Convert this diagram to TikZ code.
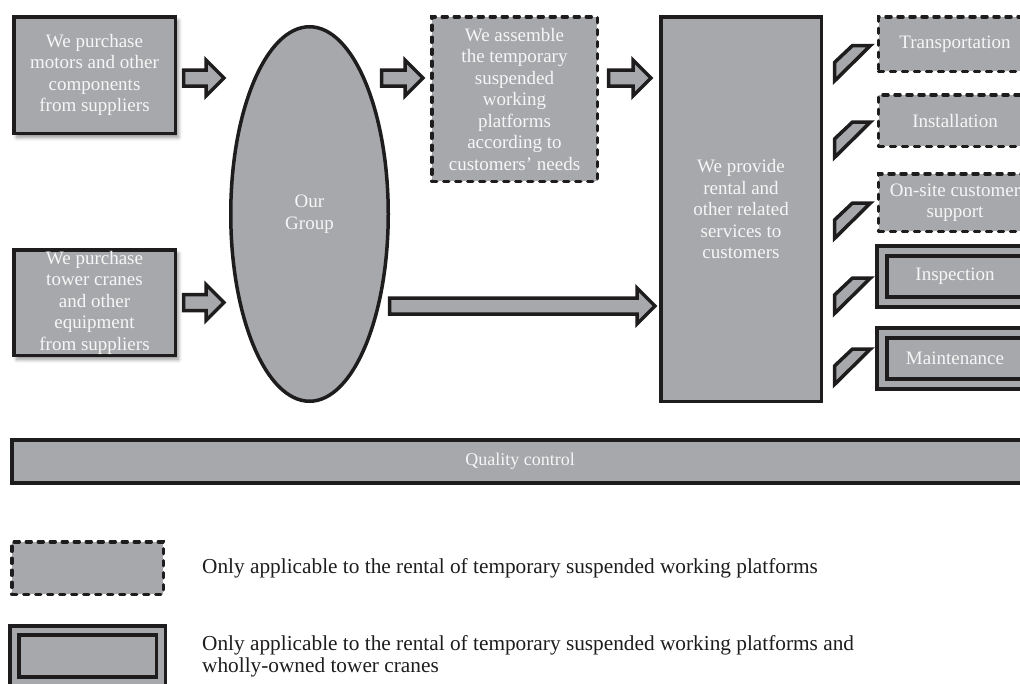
\documentclass[tikz,border=0pt]{standalone}
\usepackage{fontspec}
\setmainfont{Liberation Serif}
\usetikzlibrary{calc,shapes.geometric,shadows.blur}
\definecolor{boxgray}{HTML}{A7A8AB}
\definecolor{ink}{HTML}{1E1C1D}
\definecolor{paper}{HTML}{F6F6F6}

\begin{document}
\begin{tikzpicture}[x=1pt,y=-1pt,
  base/.style={draw=ink, fill=boxgray, line width=3.5pt, text=paper,
    font=\fontsize{19}{21.5}\selectfont, align=center, inner sep=0pt},
  solidbox/.style={base, rectangle},
  dashbox/.style={base, rectangle, dash pattern=on 5pt off 7pt, line cap=round},
  dblbox/.style={base, rectangle, double=boxgray, double distance=6.5pt},
  shadowed/.style={blur shadow={shadow xshift=3pt, shadow yshift=-4pt,
    shadow blur radius=4pt, shadow opacity=45}},
  blockarrow/.style={draw=ink, fill=boxgray, line width=3.5pt, line join=miter,
    to path={let \p1=(\tikztostart), \p2=(\tikztotarget) in
      (\x1,\y1+8pt) -- (\x2-18pt,\y1+8pt) -- (\x2-18pt,\y1+18pt) -- (\x2,\y1)
      -- (\x2-18pt,\y1-18pt) -- (\x2-18pt,\y1-8pt) -- (\x1,\y1-8pt) -- cycle}},
  slant/.style={draw=ink, fill=boxgray, line width=3.5pt, line join=miter,
    to path={let \p1=(\tikztostart), \p2=(\tikztotarget) in
      (\x1,\y1) -- (\x1,\y1+18.5pt) -- (\x2-18pt,\y2) -- (\x2,\y2) -- cycle}},
  legendtext/.style={text=ink, font=\fontsize{21.3}{22}\selectfont, inner sep=0pt}]

\useasboundingbox (0,0) rectangle (1020,683);

% sources
\node[solidbox, shadowed, minimum width=161.5pt, minimum height=116.5pt] (s1) at (94.5,75)
  {We purchase\\motors and other\\components\\from suppliers};
\node[solidbox, shadowed, minimum width=161.5pt, minimum height=105.5pt] (s2) at (94.5,302.5)
  {We purchase\\tower cranes\\and other\\equipment\\from suppliers};

% the group
\node[base, ellipse, minimum width=157.5pt, minimum height=374.5pt] (grp) at (309.5,214)
  {Our\\Group};

% assembly and services
\node[dashbox, minimum width=165.5pt, minimum height=164.5pt] (asm) at (514.5,99)
  {We assemble\\the temporary\\suspended\\working\\platforms\\according to\\customers’ needs};
\node[solidbox, minimum width=160.5pt, minimum height=384.5pt] (svc) at (741,209)
  {We provide\\rental and\\other related\\services to\\customers};

% individual services
\node[dashbox, minimum width=153pt, minimum height=54.5pt] (tr) at (955,44) {Transportation};
\node[dashbox, minimum width=153pt, minimum height=51.5pt] (ins) at (955,120.5) {Installation};
\node[dashbox, minimum width=153pt, minimum height=57.5pt] (ons) at (955,202.5) {On-site customer\\support};
\node[dblbox, minimum width=146pt, minimum height=51pt] (insp) at (955,276.5) {Inspection};
\node[dblbox, minimum width=146pt, minimum height=51pt] (mnt) at (955,358.5) {Maintenance};

% quality control bar
\node[base, line width=4pt, minimum width=1016pt, minimum height=43pt,
  font=\fontsize{18}{21}\selectfont] (qc) at (520,461.5) {Quality control};

% legend
\node[dashbox, minimum width=151.5pt, minimum height=52.5pt] (lg1) at (87.5,568) {};
\node[dblbox, double distance=5.5pt, minimum width=146.5pt, minimum height=51pt] (lg2) at (87.5,656) {};
\node[legendtext, anchor=west] (lt1) at ($(lg1.east)+(37,0)$)
  {Only applicable to the rental of temporary suspended working platforms};
\node[legendtext, anchor=west, align=left] (lt2) at (202,656)
  {Only applicable to the rental of temporary suspended working platforms and\\wholly-owned tower cranes};

% block arrows
\draw[blockarrow] ($(s1.east |- 0,78)+(6.5,0)$) to ($(grp.west |- 0,78)+(-5,0)$);
\draw[blockarrow] ($(s2.east)+(6.5,0)$) to ($(grp.west |- s2.east)+(-5,0)$);
\draw[blockarrow] ($(grp.east |- 0,78)+(-8.5,0)$) to ($(asm.west |- 0,78)+(-7,0)$);
\draw[blockarrow] ($(asm.east |- 0,78)+(9.5,0)$) to ($(svc.west |- 0,78)+(-8,0)$);
\draw[blockarrow] ($(grp.east |- 0,306)+(-0.5,0)$) to ($(svc.west |- 0,306)+(-4,0)$);

% slanted links to the individual services
\foreach \n/\dy in {tr/0, ins/0, ons/-1, insp/0, mnt/-11}
  \draw[slant] ($(svc.east |- \n.west)+(11.5,37+\dy)$) to ($(svc.east |- \n.west)+(47.5,1.5+\dy)$);

\end{tikzpicture}
\end{document}
